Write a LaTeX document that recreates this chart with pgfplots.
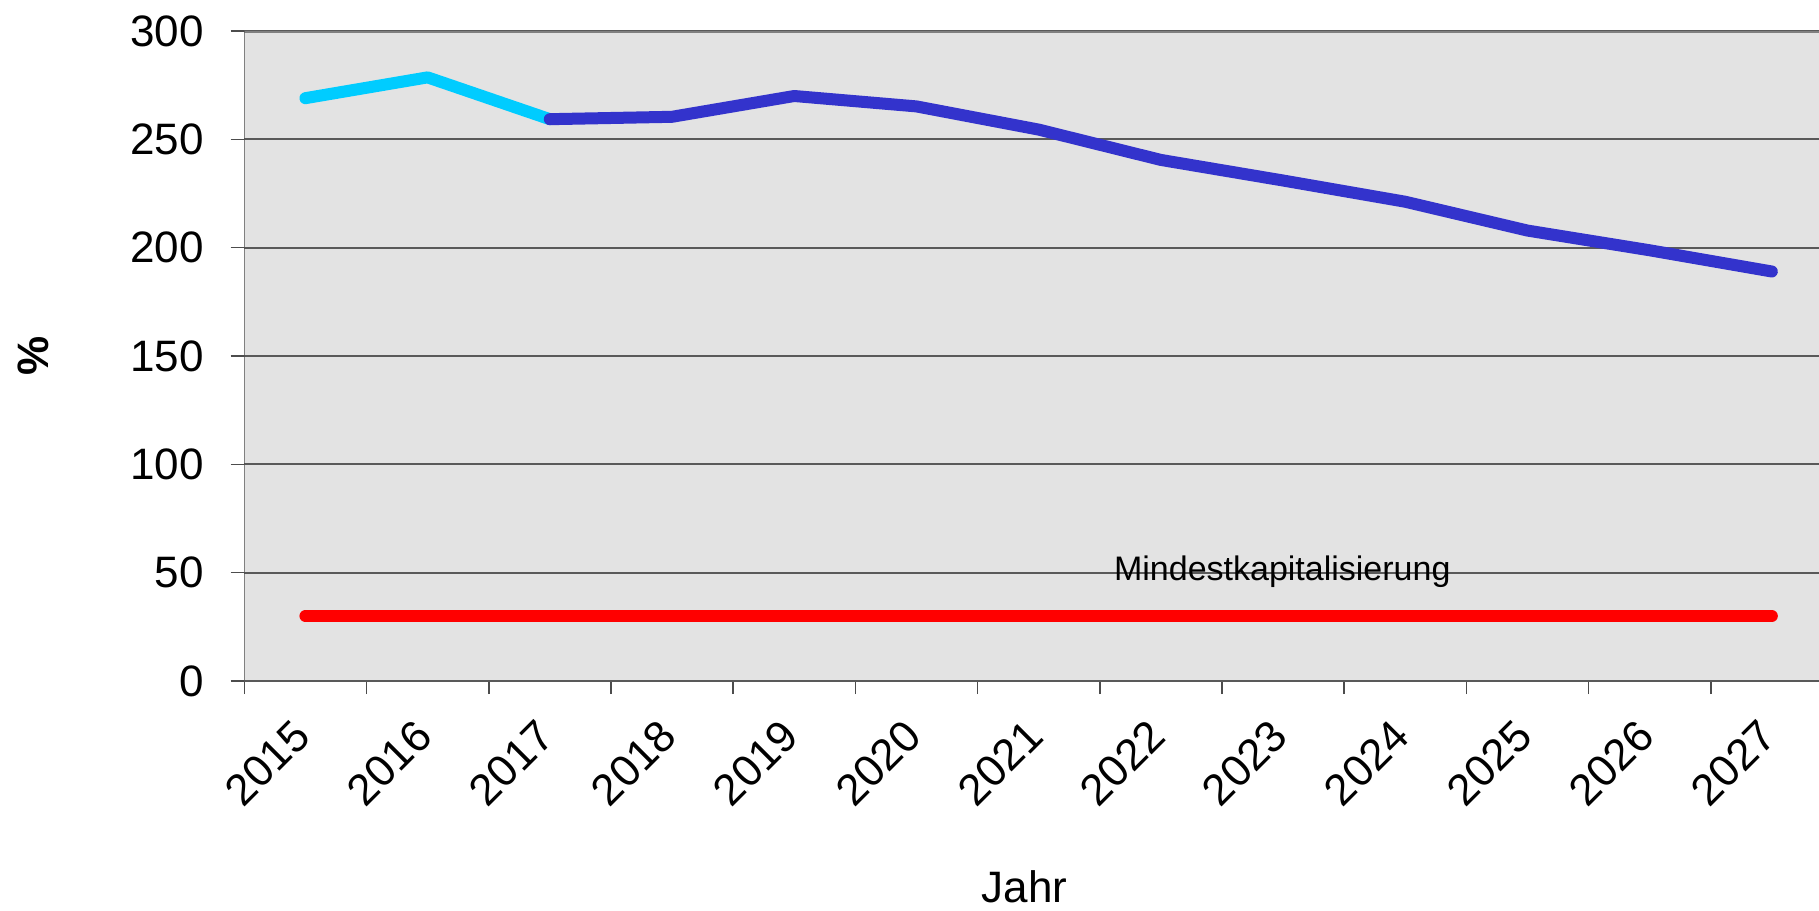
\documentclass[border=0pt]{standalone}
\usepackage{fontspec}
\setmainfont{Liberation Sans}
\usepackage{pgfplots}
\pgfplotsset{compat=1.18}
\definecolor{cyanline}{RGB}{0,204,255}
\definecolor{blueline}{RGB}{51,51,204}
\definecolor{bgc}{RGB}{227,227,227}
\definecolor{framec}{RGB}{128,128,128}
\begin{document}
\begin{tikzpicture}
\begin{axis}[
  scale only axis, width=393.67pt, height=162.5pt,
  at={(0,0)}, anchor=south west,
  xmin=0, xmax=12.886, ymin=0, ymax=300,
  /pgf/number format/assume math mode=true,
  axis line style={draw=none},
  axis background/.style={fill=bgc},
  xtick={0.5,1.5,2.5,3.5,4.5,5.5,6.5,7.5,8.5,9.5,10.5,11.5,12.5},
  xticklabels={2015,2016,2017,2018,2019,2020,2021,2022,2023,2024,2025,2026,2027},
  major x tick style={draw=none},
  minor xtick={0,1,2,3,4,5,6,7,8,9,10,11,12},
  minor x tick style={draw=black!70, line width=0.4pt},
  minor tick length=3.3pt,
  ytick={0,50,100,150,200,250,300},
  ytick style={draw=black!70, line width=0.4pt},
  major tick length=3.4pt,
  tick align=outside,
  xtick pos=bottom, ytick pos=left,
  ymajorgrids, grid style={draw=black!65, line width=0.45pt},
  tick label style={font=\fontsize{11}{13}\selectfont},
  xticklabel shift=8.3pt,
  xticklabel style={xshift=-0.8pt, rotate=45, anchor=east, inner sep=0pt},
  yticklabel style={anchor=east, inner sep=0pt, xshift=-6.6pt},
  xlabel={Jahr}, ylabel={\%},
  xlabel style={at={(axis description cs:0.4955,-0.3415)}, anchor=base, inner sep=0pt, font=\fontsize{11}{13}\selectfont},
  ylabel style={at={(axis description cs:-0.1341,0.5)}, anchor=center, inner sep=0pt, font=\bfseries\fontsize{11}{13}\selectfont},
]
\draw[framec, line width=0.75pt] (rel axis cs:0,1) -- (rel axis cs:1,1);
\draw[black!70, line width=0.5pt] (rel axis cs:0,0) -- (rel axis cs:0,1);
\draw[black!65, line width=0.7pt] (rel axis cs:0,0) -- (rel axis cs:1,0);
\addplot[red, line width=3pt, line cap=round, line join=round] coordinates {
  (0.5,30) (1.5,30) (2.5,30) (3.5,30) (4.5,30) (5.5,30) (6.5,30) (7.5,30) (8.5,30) (9.5,30) (10.5,30) (11.5,30) (12.5,30)};
\addplot[cyanline, line width=3pt, line cap=round, line join=round] coordinates {
  (0.5,269) (1.5,278.6) (2.5,259.3)};
\addplot[blueline, line width=3pt, line cap=round, line join=round] coordinates {
  (2.5,259.3) (3.5,260.4) (4.5,270) (5.5,265.2) (6.5,254.5) (7.5,240.5) (8.5,231) (9.5,221.2) (10.5,207.9) (11.5,198.8) (12.5,189)};
\node[anchor=base, inner sep=0pt, font=\fontsize{8.5}{10}\selectfont] at (axis cs:8.494,46.6) {Mindestkapitalisierung};
\end{axis}
\pgfresetboundingbox
\path (-61.08pt,-57.25pt) rectangle (393.67pt,170.25pt);
\end{tikzpicture}
\end{document}
